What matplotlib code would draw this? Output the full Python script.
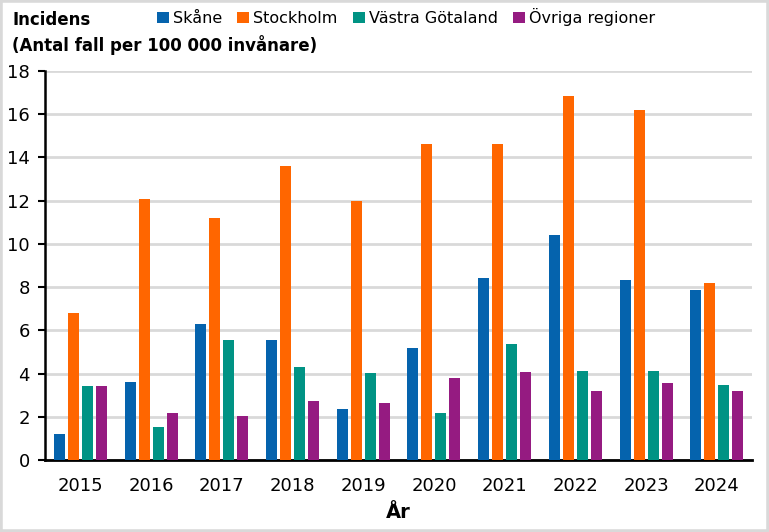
import numpy as np
import matplotlib.pyplot as plt
from matplotlib.patches import Rectangle

years = ['2015', '2016', '2017', '2018', '2019', '2020', '2021', '2022', '2023', '2024']
skane = [1.2, 3.6, 6.3, 5.55, 2.35, 5.2, 8.4, 10.4, 8.35, 7.85]
stockholm = [6.8, 12.1, 11.2, 13.6, 12.0, 14.6, 14.6, 16.85, 16.2, 8.2]
vastra_gotaland = [3.42, 1.52, 5.55, 4.3, 4.03, 2.17, 5.37, 4.12, 4.12, 3.47]
ovriga = [3.42, 2.17, 2.04, 2.73, 2.64, 3.8, 4.07, 3.2, 3.57, 3.2]

series = [('Skåne', skane, '#0563ad'),
          ('Stockholm', stockholm, '#ff6600'),
          ('Västra Götaland', vastra_gotaland, '#009384'),
          ('Övriga regioner', ovriga, '#951b81')]

fig = plt.figure(figsize=(7.69, 5.32), dpi=100)
ax = fig.add_axes([0.0585, 0.1353, 0.9195, 0.7312])

x = np.arange(len(years))
w = 0.156
step = 0.198
for i, (name, vals, col) in enumerate(series):
    ax.bar(x + (i - 1.5) * step, vals, w, color=col, label=name, zorder=3)

ax.set_xlim(-0.5, len(years) - 0.5)
ax.set_ylim(0, 18)
ax.set_yticks(range(0, 19, 2))
ax.set_xticks(x)
ax.set_xticklabels(years)
ax.tick_params(axis='x', length=0, labelsize=13, pad=12)
ax.tick_params(axis='y', length=5, width=1.5, labelsize=13, pad=6, direction='out')
ax.yaxis.grid(True, color='#d9d9d9', linewidth=2)
ax.set_axisbelow(True)
for s in ['top', 'right']:
    ax.spines[s].set_visible(False)
ax.spines['left'].set_linewidth(1.8)
ax.spines['bottom'].set_linewidth(2)
ax.set_xlabel('År', fontsize=14, fontweight='bold', labelpad=6)

# y-axis title, two lines
fig.text(0.016, 1 - 20 / 532, 'Incidens', fontsize=12, fontweight='bold',
         va='center', ha='left')
fig.text(0.016, 1 - 45 / 532, '(Antal fall per 100 000 invånare)', fontsize=12,
         fontweight='bold', va='center', ha='left')

fig.legend(loc='center left', bbox_to_anchor=(0.204, 1 - 17 / 532), ncol=4, frameon=False,
           fontsize=11.5, handlelength=0.75, handleheight=0.75, handletextpad=0.25,
           columnspacing=0.95, borderaxespad=0, borderpad=0)

fig.patches.append(Rectangle((0, 0), 1, 1, transform=fig.transFigure, fill=False,
                             edgecolor='#d9d9d9', linewidth=4))

fig.savefig('out.png', dpi=100)
